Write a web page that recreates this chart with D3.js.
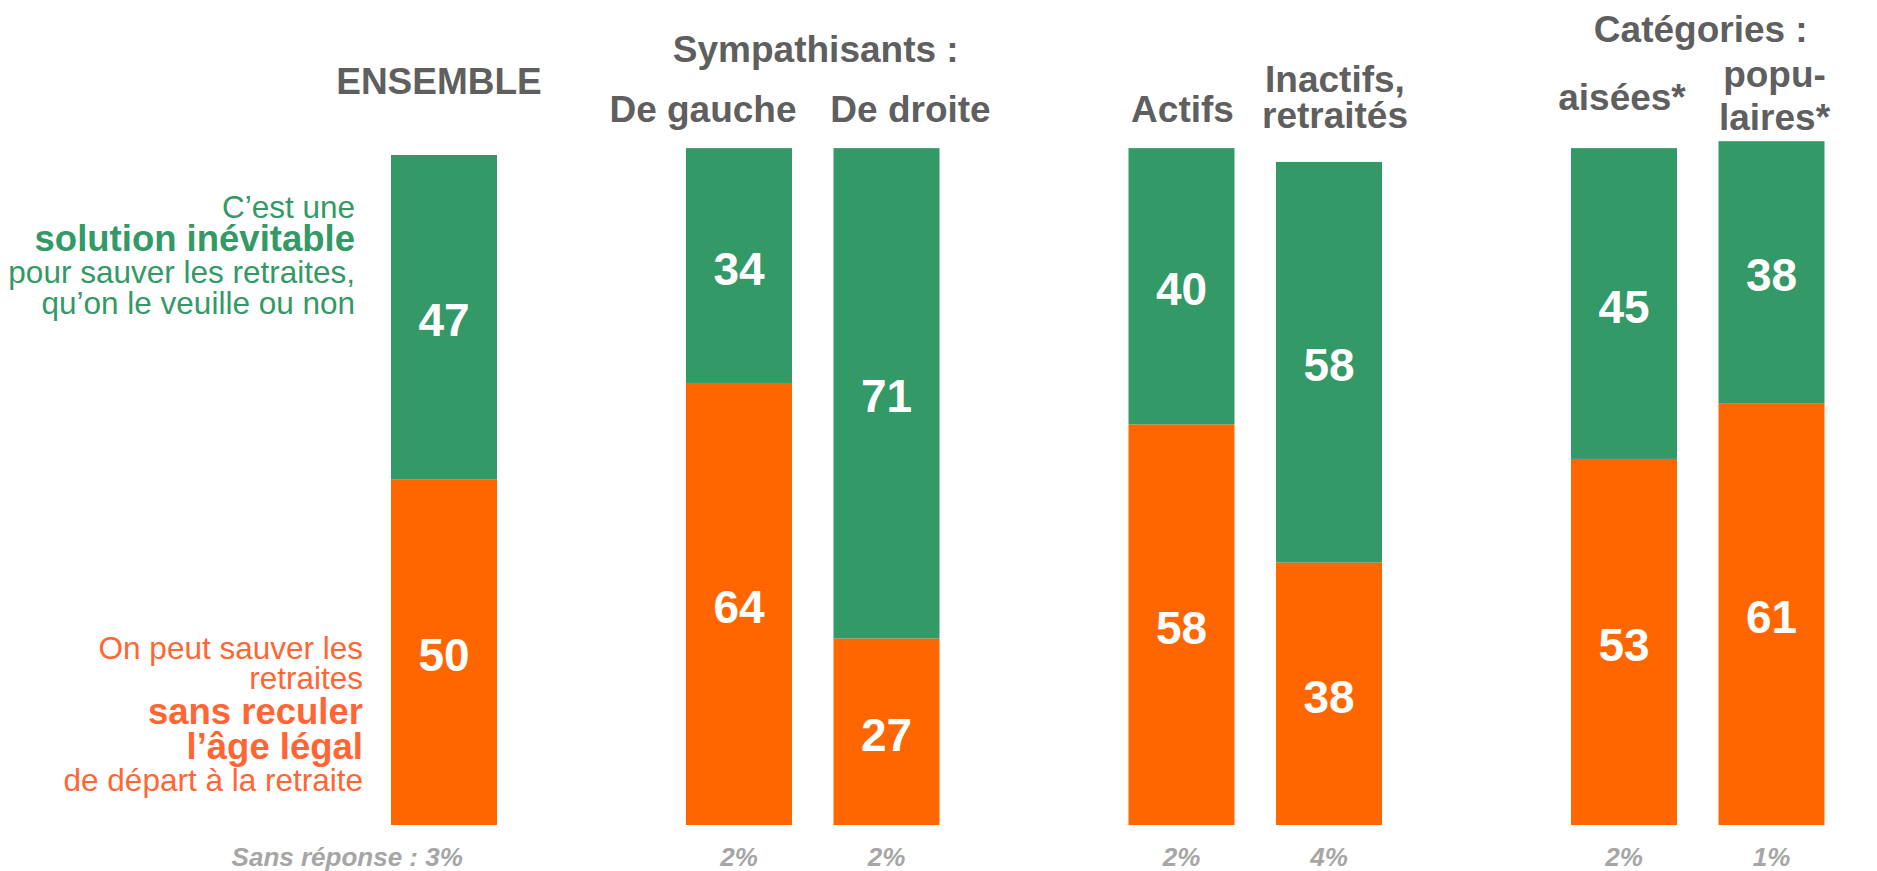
<!DOCTYPE html>
<html>
<head>
<meta charset="utf-8">
<script src="https://cdn.jsdelivr.net/npm/d3@7"></script>
<style>
  html, body { margin: 0; padding: 0; background: #ffffff; }
  svg { display: block; font-family: "Liberation Sans", Arial, Helvetica, sans-serif; }
</style>
</head>
<body>
<svg id="chart" width="1877" height="871"></svg>
<script>
// ---------------- DATA ----------------
const categories   = ["ENSEMBLE", "De gauche", "De droite", "Actifs", "Inactifs, retraités", "aisées*", "populaires*"];
const groups       = ["ensemble", "sympathisants", "sympathisants", "activite", "activite", "categories", "categories"];
const inevitable   = [47, 34, 71, 40, 58, 45, 38];   // C'est une solution inévitable
const sansReculer  = [50, 64, 27, 58, 38, 53, 61];   // sans reculer l'âge légal
const sansReponse  = [3, 2, 2, 2, 4, 2, 1];          // Sans réponse (%)
const headerLines  = [["ENSEMBLE"], ["De gauche"], ["De droite"], ["Actifs"], ["Inactifs,", "retraités"], ["aisées*"], ["popu-", "laires*"]];
const groupTitles  = { sympathisants: "Sympathisants :", categories: "Catégories :" };
const legendInevitableLines = [["C’est une", false], ["solution inévitable", true], ["pour sauver les retraites,", false], ["qu’on le veuille ou non", false]];
const legendReculerLines    = [["On peut sauver les", false], ["retraites", false], ["sans reculer", true], ["l’âge légal", true], ["de départ à la retraite", false]];
const sansReponsePrefix = "Sans réponse : ";

// ---------------- STYLE / LAYOUT ----------------
const GREEN = "#339966", ORANGE = "#FF6600", ORANGE_TXT = "#FF6633", GREY = "#5F5F5F", LIGHTGREY = "#A6A6A6";
const svg = d3.select("#chart");

// slots with gaps between groups
const slots = [];
categories.forEach((c, i) => {
  if (i > 0 && groups[i] !== groups[i - 1]) slots.push("gap" + i);
  slots.push(c);
});

const x = d3.scaleBand().domain(slots).range([391, 1824.5]).paddingInner(0.2814).paddingOuter(0);
const y = d3.scaleLinear().domain([0, 100]).range([825, 825 - 690.7]);

const table = categories.map((c, i) => ({ cat: c, reculer: sansReculer[i], inevitable: inevitable[i], sr: sansReponse[i] }));
const stack = d3.stack().keys(["reculer", "inevitable"])(table);
const colors = { reculer: ORANGE, inevitable: GREEN };

// bars
const layers = svg.append("g").selectAll("g").data(stack).join("g").attr("fill", d => colors[d.key]);
layers.selectAll("rect").data(d => d.map(v => ({ v, key: d.key }))).join("rect")
  .attr("x", d => x(d.v.data.cat))
  .attr("width", x.bandwidth())
  .attr("y", d => y(d.v[1]))
  .attr("height", d => y(d.v[0]) - y(d.v[1]));

// value labels
layers.selectAll("text").data(d => d.map(v => ({ v, key: d.key }))).join("text")
  .attr("x", d => x(d.v.data.cat) + x.bandwidth() / 2)
  .attr("y", d => (y(d.v[0]) + y(d.v[1])) / 2 + 19)
  .attr("text-anchor", "middle")
  .attr("fill", "#ffffff")
  .attr("font-weight", "bold")
  .attr("font-size", 46)
  .text(d => d.v[1] - d.v[0]);

// headers (multi-line headers as one text with tspans)
const headerLayout = [
  { dx: -5, baselines: [94] },
  { dx: -36, baselines: [122] },
  { dx: 24, baselines: [122] },
  { dx: 1, baselines: [122] },
  { dx: 6, baselines: [92, 128] },
  { dx: -2, baselines: [110] },
  { dx: 3, baselines: [87, 130] }
];
const hdr = svg.append("g").attr("fill", GREY).attr("font-weight", "bold").attr("font-size", 37).attr("text-anchor", "middle");
categories.forEach((c, i) => {
  const cx = x(c) + x.bandwidth() / 2 + headerLayout[i].dx;
  const t = hdr.append("text");
  headerLines[i].forEach((line, j) => {
    t.append("tspan").attr("x", cx).attr("y", headerLayout[i].baselines[j]).text(line);
  });
});

// group titles
const groupTitleLayout = { sympathisants: 62, categories: 42 };
Object.keys(groupTitles).forEach(g => {
  const members = categories.filter((c, i) => groups[i] === g);
  const cx = d3.mean(members, c => x(c) + x.bandwidth() / 2) + 3;
  hdr.append("text").attr("x", cx).attr("y", groupTitleLayout[g]).text(groupTitles[g]);
});

// legends on the left (each legend is one text block with tspans)
function legend(lines, baselines, xr, color) {
  const t = svg.append("text").attr("fill", color).attr("text-anchor", "end");
  lines.forEach(([s, b], j) => {
    t.append("tspan").attr("x", xr).attr("y", baselines[j])
      .attr("font-size", b ? 36.5 : 31.5).attr("font-weight", b ? "bold" : "normal").text(s);
  });
}
legend(legendInevitableLines, [218, 251, 283, 313.5], 355, GREEN);
legend(legendReculerLines, [659, 689, 724, 759, 790.5], 363, ORANGE_TXT);

// sans réponse
const sr = svg.append("g").attr("fill", LIGHTGREY).attr("font-weight", "bold").attr("font-style", "italic").attr("font-size", 26);
table.forEach((d, i) => {
  const cx = x(d.cat) + x.bandwidth() / 2;
  const t = sr.append("text").attr("x", cx).attr("y", 866).attr("text-anchor", "middle").text(d.sr + "%");
  if (i === 0) {
    const w = t.node().getComputedTextLength();
    sr.append("text").attr("x", cx - w / 2).attr("y", 866).attr("text-anchor", "end").text(sansReponsePrefix.trimEnd() + "\u00a0");
  }
});
</script>
</body>
</html>
